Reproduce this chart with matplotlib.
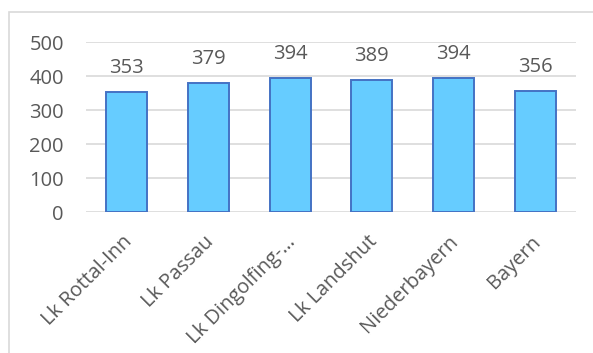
import matplotlib.pyplot as plt
from matplotlib.patches import Rectangle
from matplotlib.transforms import ScaledTranslation

regions = ['Lk Rottal-Inn', 'Lk Passau', 'Lk Dingolfing-…', 'Lk Landshut',
           'Niederbayern', 'Bayern']
values = [353, 379, 394, 389, 394, 356]
yticks = [0, 100, 200, 300, 400, 500]

plt.rcParams['font.family'] = ['Open Sans', 'DejaVu Sans']
grey = '#595959'
fs = 14.5

fig = plt.figure(figsize=(5.93, 3.53), dpi=100)
ax = fig.add_axes([86/593, 1 - 212/353, (576-86)/593, (212-42)/353])

# chart frame (only left and top edges fall inside the image)
fig.patches.append(Rectangle((9/593, -0.1), 1.0, 1.1 - 12/353,
                             transform=fig.transFigure, fill=False,
                             edgecolor='#d9d9d9', linewidth=1.2))

x = range(len(values))
bars = ax.bar(x, values, width=0.5, color='#66CCFF', edgecolor='#4472C4',
              linewidth=1.4, zorder=3)
for b, v in zip(bars, values):
    ax.annotate(str(v), (b.get_x() + b.get_width()/2, v), xytext=(0, 13.5),
                textcoords='offset points', ha='center', va='baseline',
                fontsize=fs, color=grey)

ax.set_xlim(-0.5, len(values) - 0.5)
ax.set_ylim(0, 500)
ax.set_yticks(yticks)
ax.yaxis.grid(True, color='#d9d9d9', linewidth=1.2, zorder=0)
ax.set_axisbelow(True)
for s in ax.spines.values():
    s.set_visible(False)
ax.tick_params(length=0, labelsize=fs, labelcolor=grey)
ax.tick_params(axis='y', pad=16)
ax.set_xticks(list(x))
ax.set_xticklabels(regions, rotation=45, ha='right', va='center',
                   rotation_mode='anchor')
shift = ScaledTranslation(1.5/72, -16/72, fig.dpi_scale_trans)
for lbl in ax.get_xticklabels():
    lbl.set_transform(lbl.get_transform() + shift)

fig.savefig('out.png', dpi=100)
